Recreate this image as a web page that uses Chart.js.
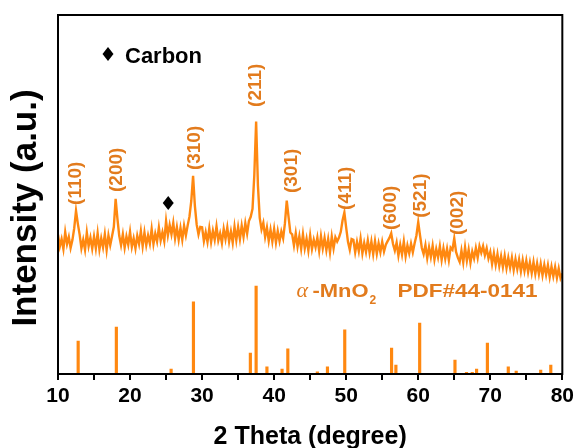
<!DOCTYPE html>
<html>
<head>
<meta charset="utf-8">
<title>XRD pattern</title>
<script src="https://cdn.jsdelivr.net/npm/chart.js@4.4.0/dist/chart.umd.min.js"></script>
<style>
  html, body { margin: 0; padding: 0; background: #fff; }
  #wrap { width: 574px; height: 448px; }
</style>
</head>
<body>
<div id="wrap"><canvas id="xrd"></canvas></div>
<script>
// measured pattern, 2theta from 10 to 80 deg in 0.25 deg steps
var thetaStart = 10, thetaStep = 0.25;
var intensity = [
  38.8, 35.5, 37.6, 34.8,  39.5, 36.2, 38.2, 35.1,  37.3, 40.6, 45.5, 41.9,  38.9, 35.0, 37.4, 34.6,
  39.4, 35.6, 38.0, 34.9,  38.3, 35.0, 39.2, 34.7,  37.8, 35.3, 38.9, 34.5,  38.6, 35.9, 38.4, 41.0,
  48.8, 43.2, 38.5, 35.9,  38.9, 35.2, 38.3, 36.0,  39.6, 35.4, 37.8, 35.0,  38.5, 36.2, 39.8, 35.6,
  39.4, 35.9, 38.6, 36.3,  40.4, 36.2, 39.1, 36.9,  40.8, 37.2, 39.5, 37.0,  42.6, 38.6, 41.5, 38.9,
  42.1, 37.8, 40.9, 37.4,  40.7, 37.4, 41.3, 38.6,  41.4, 43.9, 48.2, 55.2,  46.8, 41.6, 38.9, 41.0,
  40.9, 37.0, 39.5, 36.8,  40.6, 36.8, 39.9, 37.4,  41.1, 37.2, 39.2, 36.5,  40.4, 37.6, 40.8, 36.9,
  39.7, 36.6, 41.0, 37.3,  40.9, 37.6, 41.3, 38.2,  42.0, 39.1, 42.6, 43.8,  46.0, 55.5, 70.3, 52.5,
  43.5, 40.3, 42.1, 38.2,  40.8, 37.1, 40.2, 36.9,  40.4, 36.6, 39.8, 37.0,  39.7, 37.8, 42.0, 48.3,
  43.8, 39.4, 38.9, 35.8,  39.2, 35.5, 38.4, 34.9,  38.9, 35.0, 37.7, 34.4,  38.6, 34.8, 37.4, 35.3,
  38.0, 34.3, 38.4, 35.0,  37.9, 34.5, 37.6, 33.9,  38.3, 35.0, 38.1, 36.9,  38.0, 39.6, 42.8, 45.0,
  40.8, 36.8, 34.6, 37.6,  37.4, 33.9, 36.8, 34.2,  37.7, 33.6, 36.5, 34.0,  37.2, 33.8, 36.9, 33.4,
  37.0, 33.5, 36.4, 33.9,  36.8, 34.1, 36.0, 37.0,  37.9, 39.2, 36.2, 34.4,  36.6, 33.0, 36.0, 33.3,
  36.9, 32.8, 35.8, 33.6,  36.3, 33.9, 36.4, 38.6,  42.3, 38.6, 35.1, 33.4,  35.9, 32.3, 35.3, 32.6,
  35.7, 31.9, 34.8, 32.5,  35.6, 31.8, 35.0, 32.1,  34.9, 31.7, 35.2, 34.6,  37.8, 34.0, 32.4, 31.2,
  34.4, 31.1, 35.3, 31.6,  34.6, 31.0, 34.1, 32.2,  35.1, 32.4, 35.6, 33.8,  35.6, 33.1, 35.0, 32.2,
  34.0, 30.6, 33.6, 30.4,  33.4, 30.1, 32.8, 29.8,  32.9, 29.5, 32.4, 29.6,  32.4, 29.0, 32.0, 29.2,
  31.9, 28.6, 31.7, 28.7,  31.6, 28.4, 31.1, 28.1,  31.2, 27.9, 30.8, 27.8,  30.7, 27.5, 30.4, 27.6,
  30.3, 27.0, 29.9, 27.2,  29.8, 26.8, 29.4, 26.7,  28.0
];

// reference card PDF#44-0141 (alpha-MnO2)
var refTheta = [12.8, 18.1, 25.7, 28.8, 36.7, 37.5, 39.0, 41.1, 41.9, 46.0, 47.4, 49.8,
                56.3, 56.9, 60.2, 65.1, 66.7, 67.5, 68.1, 69.6, 72.5, 73.6, 77.0, 78.4];
var refInt   = [9.2, 13.1, 1.4, 20.1, 5.8, 24.5, 2.0, 1.4, 7.0, 0.6, 2.0, 12.3,
                7.2, 2.5, 14.2, 3.9, 0.5, 0.5, 1.4, 8.6, 2.0, 0.8, 1.1, 2.5];

// hkl labels: 2theta of the label and intensity where the label starts
var hklText  = ['(110)', '(200)', '(310)', '(211)', '(301)', '(411)', '(600)', '(521)', '(002)'];
var hklTheta = [12.5, 18.2, 29.05, 37.4, 42.4, 49.9, 56.2, 60.4, 65.5];
var hklY     = [47.1, 50.7, 56.8, 74.4, 50.4, 45.7, 40.1, 43.5, 38.7];

// carbon peak marker
var carbonTheta = 25.3, carbonY = 47.6;

var xTicks = [10, 20, 30, 40, 50, 60, 70, 80];

var pattern = intensity.map(function(v, i) {
  return { x: thetaStart + i * thetaStep, y: v };
});
var sticks = refTheta.map(function(t, i) { return { x: t, y: refInt[i] }; });

var orange = '#ff8810';
var labelOrange = '#e27b1d';
var FONT = '"Liberation Sans", Arial, Helvetica, sans-serif';

function diamond(ctx, x, y, w, h) {
  ctx.beginPath();
  ctx.moveTo(x, y - h / 2);
  ctx.lineTo(x + w / 2, y);
  ctx.lineTo(x, y + h / 2);
  ctx.lineTo(x - w / 2, y);
  ctx.closePath();
  ctx.fill();
}

function stretchText(ctx, text, x, y, sx) {
  ctx.save();
  ctx.translate(x, y);
  ctx.scale(sx, 1);
  ctx.fillText(text, 0, 0);
  var w = ctx.measureText(text).width * sx;
  ctx.restore();
  return w;
}

var annotations = {
  id: 'annotations',
  afterDraw: function(chart) {
    var ctx = chart.ctx, a = chart.chartArea;
    var xs = chart.scales.x, ys = chart.scales.y;

    // frame
    ctx.save();
    ctx.strokeStyle = '#000';
    ctx.lineWidth = 2;
    ctx.strokeRect(a.left, a.top, a.right - a.left, a.bottom - a.top);

    // hkl labels
    ctx.fillStyle = labelOrange;
    ctx.font = 'bold 19px ' + FONT;
    ctx.textAlign = 'left';
    ctx.textBaseline = 'middle';
    hklText.forEach(function(t, i) {
      ctx.save();
      ctx.translate(xs.getPixelForValue(hklTheta[i]), ys.getPixelForValue(hklY[i]));
      ctx.rotate(-Math.PI / 2);
      ctx.fillText(t, 0, 0);
      ctx.restore();
    });

    // carbon marker and legend
    ctx.fillStyle = '#000';
    diamond(ctx, xs.getPixelForValue(carbonTheta), ys.getPixelForValue(carbonY), 11, 14);
    var lx = a.left + 50, ly = a.top + 39;
    diamond(ctx, lx, ly, 11, 14);
    ctx.font = 'bold 22px ' + FONT;
    ctx.textBaseline = 'alphabetic';
    ctx.fillText('Carbon', lx + 17, ly + 9);

    // reference card caption
    ctx.fillStyle = labelOrange;
    var cx = xs.getPixelForValue(43.1), cy = ys.getPixelForValue(21.4);
    ctx.font = 'italic 22px "Liberation Serif", "Times New Roman", serif';
    ctx.fillText('\u03b1', cx, cy);
    ctx.font = 'bold 18px ' + FONT;
    var w = stretchText(ctx, '-MnO', cx + 16, cy, 1.22);
    ctx.font = 'bold 12px ' + FONT;
    ctx.fillText('2', cx + 16 + w + 1, cy + 7);
    ctx.font = 'bold 18px ' + FONT;
    stretchText(ctx, 'PDF#44-0141', cx + 101, cy, 1.25);

    // y axis title
    ctx.fillStyle = '#000';
    ctx.font = 'bold 35px ' + FONT;
    ctx.textAlign = 'center';
    ctx.textBaseline = 'middle';
    ctx.translate(26, a.top + 193);
    ctx.rotate(-Math.PI / 2);
    ctx.fillText('Intensity (a.u.)', 0, 0);
    ctx.restore();
  }
};

new Chart(document.getElementById('xrd'), {
  type: 'line',
  data: {
    datasets: [{
      label: 'alpha-MnO2',
      data: pattern,
      borderColor: orange,
      borderWidth: 2.4,
      pointRadius: 0,
      tension: 0,
      fill: false
    }, {
      type: 'bar',
      label: 'PDF#44-0141',
      data: sticks,
      backgroundColor: orange,
      borderWidth: 0,
      barThickness: 2.5
    }]
  },
  options: {
    responsive: true,
    maintainAspectRatio: false,
    animation: false,
    layout: { padding: { left: 58, right: 9, top: 15, bottom: 0 } },
    plugins: {
      legend: { display: false },
      tooltip: { enabled: false }
    },
    scales: {
      x: {
        type: 'linear',
        min: 10,
        max: 80,
        offset: false,
        grid: {
          offset: false,
          drawOnChartArea: false,
          drawTicks: true,
          tickLength: 6,
          color: '#000',
          lineWidth: 2
        },
        border: { display: true, color: '#000', width: 2 },
        ticks: {
          stepSize: 5,
          autoSkip: false,
          maxRotation: 0,
          padding: 0,
          color: '#000',
          font: { family: FONT, size: 21, weight: 'bold', lineHeight: 1.5 },
          callback: function(v) { return xTicks.indexOf(v) >= 0 ? String(v) : ''; }
        },
        title: {
          display: true,
          text: '2 Theta (degree)',
          color: '#000',
          font: { family: FONT, size: 25, weight: 'bold', lineHeight: 0.9 },
          padding: { top: 14, bottom: 0 }
        }
      },
      y: {
        min: 0,
        max: 100,
        display: false
      }
    }
  },
  plugins: [annotations]
});
</script>
</body>
</html>
